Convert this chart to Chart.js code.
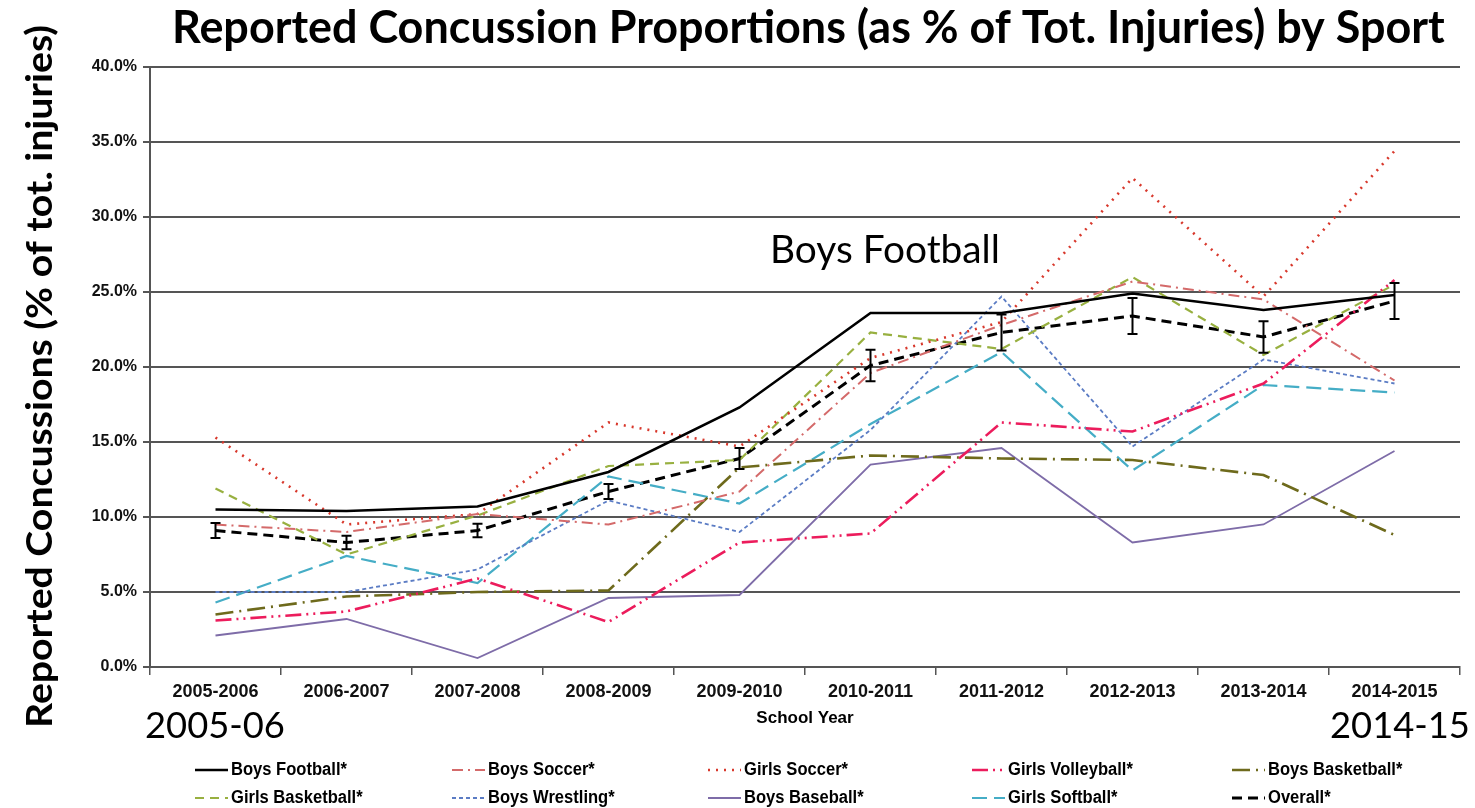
<!DOCTYPE html>
<html><head><meta charset="utf-8">
<script src="https://cdn.jsdelivr.net/npm/chart.js@4.4.1/dist/chart.umd.min.js"></script>
<style>html,body{margin:0;padding:0;background:#fff}#wrap{width:1475px;height:808px}</style>
</head><body><div id="wrap"><canvas id="c" width="1475" height="808"></canvas></div>
<script>
const categories = ['2005-2006','2006-2007','2007-2008','2008-2009','2009-2010','2010-2011','2011-2012','2012-2013','2013-2014','2014-2015'];
const boysFootball    = [10.5, 10.4, 10.7, 13.0, 17.3, 23.6, 23.6, 24.9, 23.8, 24.8];
const boysSoccer      = [9.5, 9.0, 10.2, 9.5, 11.7, 19.6, 22.8, 25.7, 24.5, 19.1];
const girlsSoccer     = [15.3, 9.5, 10.2, 16.3, 14.7, 20.6, 23.0, 32.6, 24.7, 34.4];
const girlsVolleyball = [3.1, 3.7, 5.9, 3.0, 8.3, 8.9, 16.3, 15.7, 18.9, 25.8];
const boysBasketball  = [3.5, 4.7, 5.0, 5.1, 13.3, 14.1, 13.9, 13.8, 12.8, 8.8];
const girlsBasketball = [11.9, 7.5, 10.1, 13.4, 13.8, 22.3, 21.2, 26.0, 20.8, 25.5];
const boysWrestling   = [5.0, 5.0, 6.5, 11.1, 9.0, 15.8, 24.7, 14.7, 20.5, 18.9];
const boysBaseball    = [2.1, 3.2, 0.6, 4.6, 4.8, 13.5, 14.6, 8.3, 9.5, 14.4];
const girlsSoftball   = [4.3, 7.4, 5.6, 12.7, 10.9, 16.2, 21.0, 13.1, 18.8, 18.3];
const overall         = [9.1, 8.3, 9.1, 11.7, 13.9, 20.1, 22.3, 23.4, 22.0, 24.4];
const overallErr      = [0.5, 0.45, 0.45, 0.5, 0.7, 1.05, 1.2, 1.2, 1.05, 1.2];
const yTicks = [0, 5, 10, 15, 20, 25, 30, 35, 40];

const TITLE = 'Reported Concussion Proportions (as % of Tot. Injuries) by Sport';
const YTITLE = 'Reported Concussions (% of tot. injuries)';

function ds(label, data, color, dash, width) {
  return { label, data, borderColor: color, backgroundColor: color, borderDash: dash,
           borderWidth: width, pointRadius: 0, pointHoverRadius: 0, tension: 0, fill: false };
}
const datasets = [
  ds('Boys Football*', boysFootball, '#000000', [], 2.6),
  ds('Boys Soccer*', boysSoccer, '#d46a6a', [11, 5, 2, 5], 2),
  ds('Girls Soccer*', girlsSoccer, '#d8382c', [2, 6], 2.6),
  ds('Girls Volleyball*', girlsVolleyball, '#ec1c5c', [16, 5, 2, 5, 2, 5], 2.6),
  ds('Boys Basketball*', boysBasketball, '#6e6a1c', [18, 6, 2, 6], 2.6),
  ds('Girls Basketball*', girlsBasketball, '#98b040', [9, 6], 2.2),
  ds('Boys Wrestling*', boysWrestling, '#5b7cc4', [4, 3], 1.8),
  ds('Boys Baseball*', boysBaseball, '#7e6ca8', [], 1.8),
  ds('Girls Softball*', girlsSoftball, '#45adc6', [15, 7], 2.2),
  ds('Overall*', overall, '#000000', [10, 6], 3)
];

function fitSize(ctx, text, weight, family, width) {
  ctx.font = weight + ' 100px ' + family;
  return 100 * width / ctx.measureText(text).width;
}
function stretchText(ctx, text, font, x, y, width) {
  ctx.font = font;
  const w = ctx.measureText(text).width;
  ctx.save();
  ctx.translate(x, y);
  ctx.scale(width / w, 1);
  ctx.fillText(text, 0, 0);
  ctx.restore();
}

const errorBars = {
  id: 'errorBars',
  afterDatasetsDraw(chart) {
    const ctx = chart.ctx, y = chart.scales.y, x = chart.scales.x;
    ctx.save();
    ctx.strokeStyle = '#000'; ctx.lineWidth = 2; ctx.setLineDash([]);
    overall.forEach((v, i) => {
      const px = x.getPixelForValue(i);
      const top = y.getPixelForValue(v + overallErr[i]);
      const bot = y.getPixelForValue(v - overallErr[i]);
      ctx.beginPath();
      ctx.moveTo(px, top); ctx.lineTo(px, bot);
      ctx.moveTo(px - 5, top); ctx.lineTo(px + 5, top);
      ctx.moveTo(px - 5, bot); ctx.lineTo(px + 5, bot);
      ctx.stroke();
    });
    ctx.restore();
  }
};

const texts = {
  id: 'texts',
  afterDraw(chart) {
    const ctx = chart.ctx;
    ctx.save();
    ctx.fillStyle = '#000';
    ctx.textBaseline = 'alphabetic';
    ctx.textAlign = 'left';
    // main title
    let s = fitSize(ctx, TITLE, 'bold', 'Lato', 1273);
    ctx.font = 'bold ' + s + 'px Lato';
    ctx.fillText(TITLE, 172, 43);
    // y title
    ctx.save();
    ctx.translate(52, 728);
    ctx.rotate(-Math.PI / 2);
    stretchText(ctx, YTITLE, 'bold 37px Lato', 0, 0, 703);
    ctx.restore();
    // annotations
    s = fitSize(ctx, '2005-06', 'normal', 'Lato', 140);
    ctx.font = s + 'px Lato';
    ctx.fillText('2005-06', 145, 738);
    ctx.fillText('2014-15', 1330, 738);
    s = fitSize(ctx, 'Boys Football', 'normal', 'Lato', 230);
    ctx.font = s + 'px Lato';
    ctx.fillText('Boys Football', 770, 263);
    // legend
    const colX = [195, 452, 708, 972, 1232];
    const rowY = [770, 798];
    ctx.textBaseline = 'middle';
    chart.data.datasets.forEach((d, i) => {
      const cx = colX[i % 5], cy = rowY[Math.floor(i / 5)];
      ctx.save();
      ctx.strokeStyle = d.borderColor;
      ctx.lineWidth = d.borderWidth;
      ctx.setLineDash(d.borderDash || []);
      ctx.beginPath(); ctx.moveTo(cx, cy); ctx.lineTo(cx + 33, cy); ctx.stroke();
      ctx.restore();
      ctx.fillStyle = '#000';
      ctx.font = 'bold 18px "Liberation Sans"';
      ctx.save();
      ctx.translate(cx + 36, cy);
      ctx.scale(0.92, 1);
      ctx.fillText(d.label, 0, 0);
      ctx.restore();
    });
    ctx.restore();
  }
};

new Chart(document.getElementById('c'), {
  type: 'line',
  data: { labels: categories, datasets },
  plugins: [errorBars, texts],
  options: {
    responsive: false,
    devicePixelRatio: 1,
    animation: false,
    events: [],
    layout: { padding: { left: 0, right: 15, top: 67, bottom: 79 } },
    plugins: { legend: { display: false }, tooltip: { enabled: false }, title: { display: false } },
    scales: {
      x: {
        offset: true,
        grid: { display: true, drawOnChartArea: false, drawTicks: true, tickLength: 8, color: '#555', lineWidth: 1.5, offset: true },
        border: { display: true, color: '#555', width: 2 },
        ticks: { color: '#111', font: { family: '"Liberation Sans"', weight: 'bold', size: 18 }, padding: 6, maxRotation: 0, autoSkip: false },
        title: { display: true, text: 'School Year', color: '#000', font: { family: '"Liberation Sans"', weight: 'bold', size: 17 }, padding: { top: 2, bottom: 0 } },
        afterFit(scale) { scale.height = 62; }
      },
      y: {
        min: 0, max: 40,
        afterBuildTicks(scale) { scale.ticks = yTicks.map(v => ({ value: v })); },
        grid: { color: '#555', lineWidth: 2, tickLength: 7 },
        border: { display: true, color: '#555', width: 2 },
        ticks: { color: '#111', font: { family: '"Liberation Sans"', weight: 'bold', size: 16 }, padding: 6,
                 callback: v => v.toFixed(1) + '%' },
        afterFit(scale) { scale.width = 150; }
      }
    }
  }
});
</script>
</body></html>
